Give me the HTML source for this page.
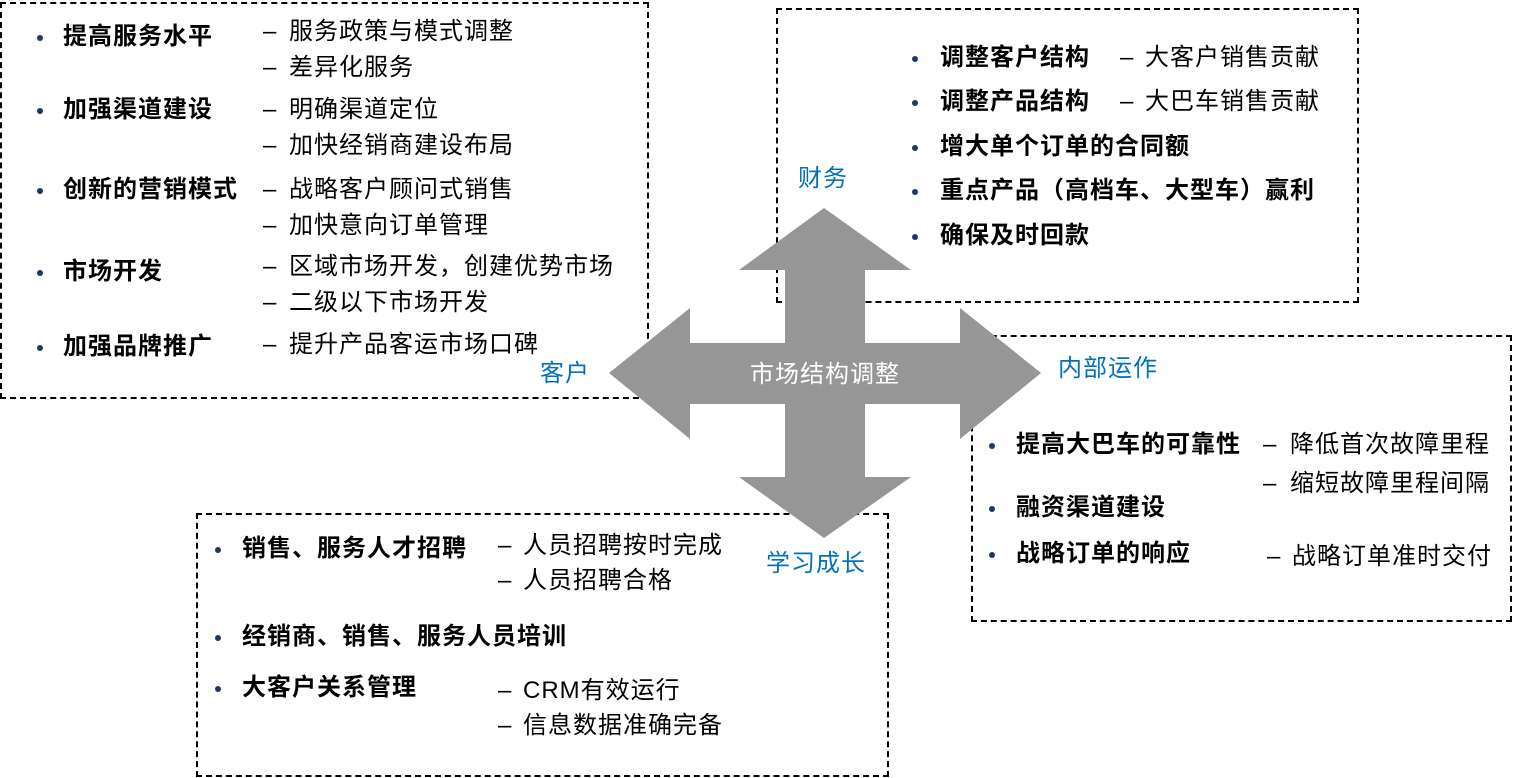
<!DOCTYPE html>
<html><head><meta charset="utf-8"><style>
body{margin:0;width:1534px;height:778px;background:#fff;position:relative;overflow:hidden;font-family:"Liberation Sans","Noto Sans CJK SC",sans-serif;}
.box{position:absolute;border:2px dashed #000;box-sizing:border-box;}
.t{position:absolute;font-size:24px;line-height:28px;letter-spacing:1px;white-space:nowrap;color:#000;}
.b{font-weight:bold;}
.l{color:#0070c0;}
.d{position:absolute;width:6px;height:6px;border-radius:50%;background:#1f3864;}
</style></head><body>
<div class="box" style="left:0;top:2px;width:649px;height:397px"></div>
<div class="box" style="left:776px;top:8px;width:583px;height:295px"></div>
<div class="box" style="left:971px;top:335px;width:541px;height:287px"></div>
<div class="box" style="left:196px;top:513px;width:693px;height:264px"></div>
<svg style="position:absolute;left:0;top:0" width="1534" height="778">
<polygon fill="#969696" points="824,208 911,270 865,270 865,343 960,343 960,308 1041,373 960,439 960,404 865,404 865,477 911,477 824,538 739,477 785,477 785,404 690,404 690,439 609,373 690,308 690,343 785,343 785,270 739,270"/>
</svg>
<div class="t" style="left:750px;top:361px;color:#fff">市场结构调整</div>

<!-- customer -->
<div class="d" style="left:37px;top:35px"></div><div class="t b" style="left:63px;top:23px">提高服务水平</div>
<div class="t" style="left:263px;top:18px">–</div><div class="t" style="left:289px;top:18px">服务政策与模式调整</div>
<div class="t" style="left:263px;top:54px">–</div><div class="t" style="left:289px;top:54px">差异化服务</div>
<div class="d" style="left:37px;top:108px"></div><div class="t b" style="left:63px;top:96px">加强渠道建设</div>
<div class="t" style="left:263px;top:96px">–</div><div class="t" style="left:289px;top:96px">明确渠道定位</div>
<div class="t" style="left:263px;top:132px">–</div><div class="t" style="left:289px;top:132px">加快经销商建设布局</div>
<div class="d" style="left:37px;top:188px"></div><div class="t b" style="left:63px;top:176px">创新的营销模式</div>
<div class="t" style="left:263px;top:176px">–</div><div class="t" style="left:289px;top:176px">战略客户顾问式销售</div>
<div class="t" style="left:263px;top:212px">–</div><div class="t" style="left:289px;top:212px">加快意向订单管理</div>
<div class="d" style="left:37px;top:270px"></div><div class="t b" style="left:63px;top:258px">市场开发</div>
<div class="t" style="left:263px;top:253px">–</div><div class="t" style="left:289px;top:253px">区域市场开发，创建优势市场</div>
<div class="t" style="left:263px;top:289px">–</div><div class="t" style="left:289px;top:289px">二级以下市场开发</div>
<div class="d" style="left:37px;top:345px"></div><div class="t b" style="left:63px;top:333px">加强品牌推广</div>
<div class="t" style="left:263px;top:331px">–</div><div class="t" style="left:289px;top:331px">提升产品客运市场口碑</div>
<div class="t l" style="left:540px;top:360px">客户</div>

<!-- finance -->
<div class="t l" style="left:798px;top:165px">财务</div>
<div class="d" style="left:912px;top:56px"></div><div class="t b" style="left:940px;top:44px">调整客户结构</div>
<div class="t" style="left:1120px;top:44px">–</div><div class="t" style="left:1145px;top:44px">大客户销售贡献</div>
<div class="d" style="left:912px;top:100px"></div><div class="t b" style="left:940px;top:88px">调整产品结构</div>
<div class="t" style="left:1120px;top:88px">–</div><div class="t" style="left:1145px;top:88px">大巴车销售贡献</div>
<div class="d" style="left:912px;top:145px"></div><div class="t b" style="left:940px;top:133px">增大单个订单的合同额</div>
<div class="d" style="left:912px;top:189px"></div><div class="t b" style="left:940px;top:177px">重点产品（高档车、大型车）赢利</div>
<div class="d" style="left:912px;top:234px"></div><div class="t b" style="left:940px;top:222px">确保及时回款</div>

<!-- internal -->
<div class="t l" style="left:1058px;top:355px">内部运作</div>
<div class="d" style="left:989px;top:443px"></div><div class="t b" style="left:1016px;top:431px">提高大巴车的可靠性</div>
<div class="t" style="left:1263px;top:431px">–</div><div class="t" style="left:1290px;top:431px">降低首次故障里程</div>
<div class="t" style="left:1263px;top:470px">–</div><div class="t" style="left:1290px;top:470px">缩短故障里程间隔</div>
<div class="d" style="left:989px;top:506px"></div><div class="t b" style="left:1016px;top:494px">融资渠道建设</div>
<div class="d" style="left:989px;top:552px"></div><div class="t b" style="left:1016px;top:540px">战略订单的响应</div>
<div class="t" style="left:1267px;top:543px">–</div><div class="t" style="left:1292px;top:543px">战略订单准时交付</div>

<!-- learning -->
<div class="t l" style="left:766px;top:550px">学习成长</div>
<div class="d" style="left:215px;top:547px"></div><div class="t b" style="left:242px;top:535px">销售、服务人才招聘</div>
<div class="t" style="left:498px;top:532px">–</div><div class="t" style="left:523px;top:532px">人员招聘按时完成</div>
<div class="t" style="left:498px;top:567px">–</div><div class="t" style="left:523px;top:567px">人员招聘合格</div>
<div class="d" style="left:215px;top:635px"></div><div class="t b" style="left:242px;top:623px">经销商、销售、服务人员培训</div>
<div class="d" style="left:215px;top:686px"></div><div class="t b" style="left:242px;top:674px">大客户关系管理</div>
<div class="t" style="left:498px;top:677px">–</div><div class="t" style="left:523px;top:677px">CRM有效运行</div>
<div class="t" style="left:498px;top:712px">–</div><div class="t" style="left:523px;top:712px">信息数据准确完备</div>
</body></html>
